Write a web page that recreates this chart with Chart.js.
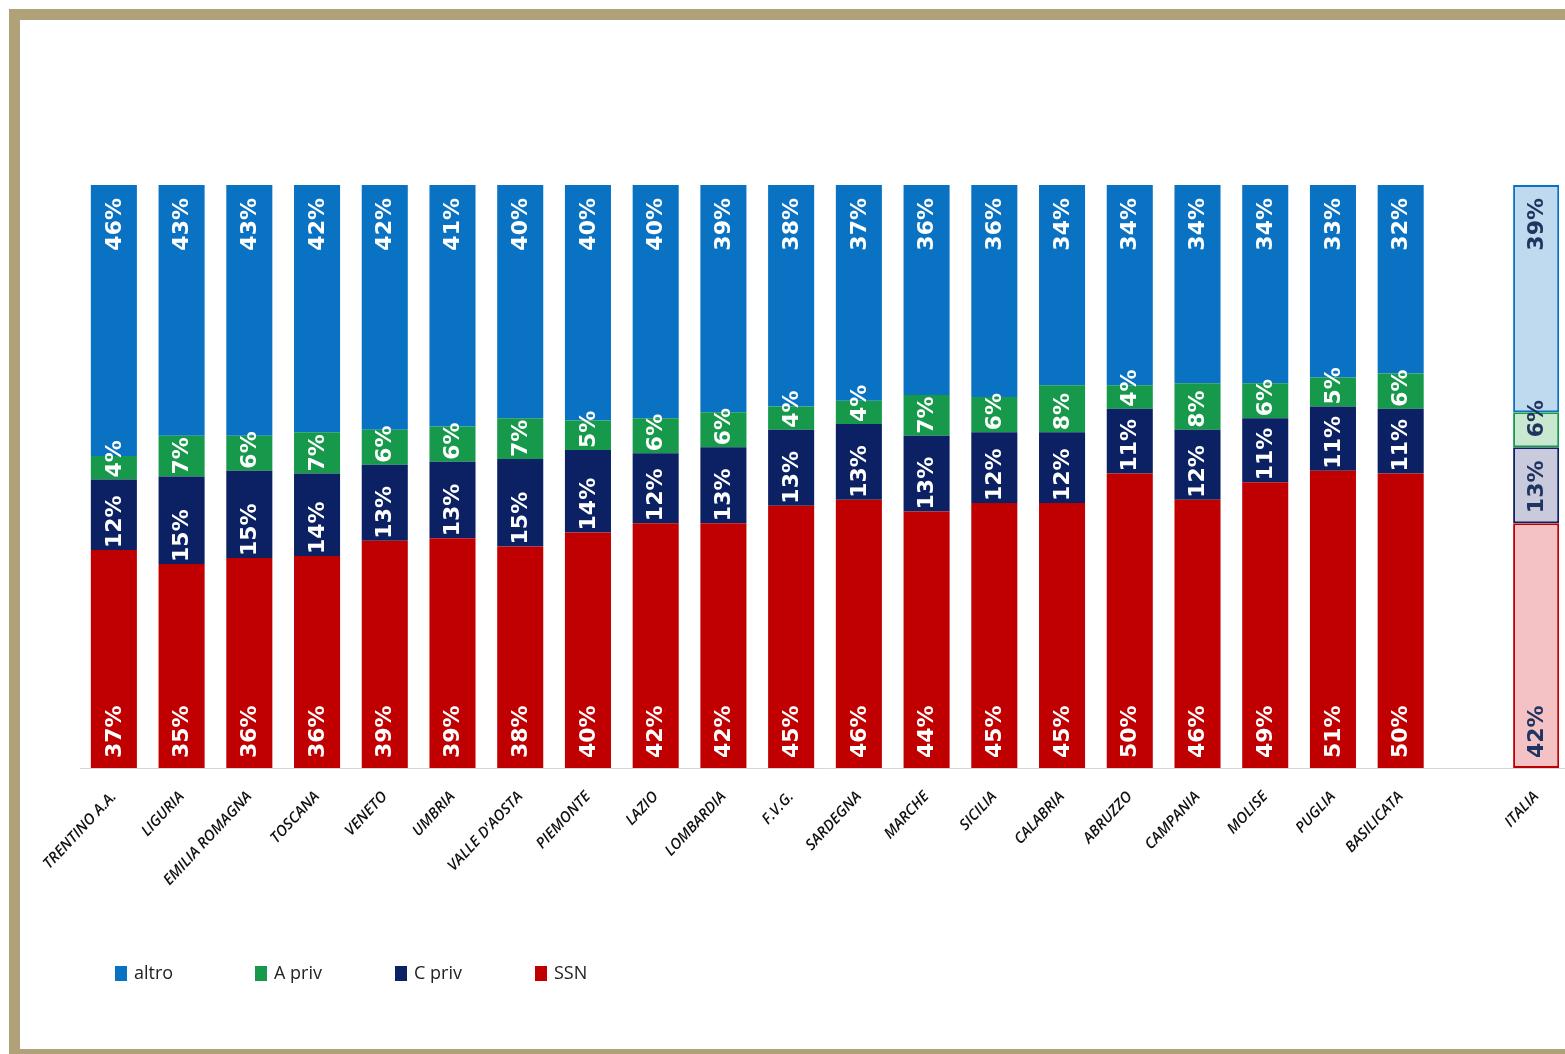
<!DOCTYPE html>
<html>
<head>
<meta charset="utf-8">
<script src="https://cdn.jsdelivr.net/npm/chart.js@4.4.1/dist/chart.umd.min.js"></script>
<style>
    html, body { margin: 0; padding: 0; background: #fff; overflow: hidden; }
    #wrap { position: relative; width: 1565px; height: 1054px; overflow: hidden; }
    #chart { position: absolute; left: 0; top: 0; }
    #frame {
        position: absolute; left: 9px; top: 9px; width: 1600px; height: 1029px;
        border: 11px solid #b1a17b; pointer-events: none;
    }
</style>
</head>
<body>
<div id="wrap">
    <canvas id="chart" width="1600" height="1054"></canvas>
    <div id="frame"></div>
</div>
<script>
// categories (an empty slot separates the regions from ITALIA)
const regions = ['TRENTINO A.A.', 'LIGURIA', 'EMILIA ROMAGNA', 'TOSCANA', 'VENETO', 'UMBRIA',
    "VALLE D'AOSTA", 'PIEMONTE', 'LAZIO', 'LOMBARDIA', 'F.V.G.', 'SARDEGNA', 'MARCHE', 'SICILIA',
    'CALABRIA', 'ABRUZZO', 'CAMPANIA', 'MOLISE', 'PUGLIA', 'BASILICATA', '', 'ITALIA'];

// shares in % as printed on the bars
const ssn   = [37, 35, 36, 36, 39, 39, 38, 40, 42, 42, 45, 46, 44, 45, 45, 50, 46, 49, 51, 50, null, 42];
const cPriv = [12, 15, 15, 14, 13, 13, 15, 14, 12, 13, 13, 13, 13, 12, 12, 11, 12, 11, 11, 11, null, 13];
const aPriv = [4, 7, 6, 7, 6, 6, 7, 5, 6, 6, 4, 4, 7, 6, 8, 4, 8, 6, 5, 6, null, 6];
const altro = [46, 43, 43, 42, 42, 41, 40, 40, 40, 39, 38, 37, 36, 36, 34, 34, 34, 34, 33, 32, null, 39];

const ITALIA = regions.indexOf('ITALIA');

// 100% stacked: scale each column so it fills the axis
function share(values) {
    return values.map((v, i) => {
        if (v === null) return null;
        const tot = ssn[i] + cPriv[i] + aPriv[i] + altro[i];
        return v / tot * 100;
    });
}

function colors(strong, light) {
    return regions.map((r, i) => i === ITALIA ? light : strong);
}

function makeSet(label, values, strong, light) {
    return {
        label: label,
        data: share(values),
        raw: values,
        backgroundColor: colors(strong, light),
        borderColor: strong,
        borderWidth: regions.map((r, i) => i === ITALIA ? 2 : 0),
        borderSkipped: false,
        swatch: strong
    };
}

const datasets = [
    makeSet('SSN', ssn, '#C00000', '#F4C2C4'),
    makeSet('C priv', cPriv, '#0B2163', '#C9CADB'),
    makeSet('A priv', aPriv, '#16994A', '#C8E8D0'),
    makeSet('altro', altro, '#0A72C3', '#BFD9EF')
];

// bar value labels, rotated to read bottom-up
const valueLabels = {
    id: 'valueLabels',
    afterDatasetsDraw(chart) {
        const ctx = chart.ctx;
        ctx.save();
        ctx.font = 'bold 22px "DejaVu Sans"';
        ctx.textBaseline = 'middle';
        chart.data.datasets.forEach((ds, di) => {
            const meta = chart.getDatasetMeta(di);
            meta.data.forEach((bar, i) => {
                const v = ds.raw[i];
                if (v === null) return;
                ctx.fillStyle = i === ITALIA ? '#1F3460' : '#ffffff';
                ctx.save();
                if (ds.label === 'altro') {
                    ctx.translate(bar.x, bar.y + 13);
                    ctx.rotate(-Math.PI / 2);
                    ctx.textAlign = 'right';
                } else {
                    const off = (ds.label === 'SSN' || i === ITALIA) ? 10 : 2;
                    ctx.translate(bar.x, bar.base - off);
                    ctx.rotate(-Math.PI / 2);
                    ctx.textAlign = 'left';
                }
                ctx.fillText(v + '%', 0, 1);
                ctx.restore();
            });
        });
        ctx.restore();
    }
};

// legend row at the bottom left
const bottomLegend = {
    id: 'bottomLegend',
    afterDraw(chart) {
        const ctx = chart.ctx;
        const order = ['altro', 'A priv', 'C priv', 'SSN'];
        ctx.save();
        ctx.font = '18px "Liberation Sans Narrow", "Open Sans", sans-serif';
        ctx.textBaseline = 'middle';
        ctx.textAlign = 'left';
        order.forEach((name, k) => {
            const ds = chart.data.datasets.find(d => d.label === name);
            const x = 115 + k * 140;
            ctx.fillStyle = ds.swatch;
            ctx.fillRect(x, 966, 12, 15);
            ctx.fillStyle = '#222';
            ctx.fillText(name, x + 19, 974);
        });
        ctx.restore();
    }
};

new Chart(document.getElementById('chart'), {
    type: 'bar',
    data: { labels: regions, datasets: datasets },
    options: {
        responsive: false,
        animation: false,
        layout: { padding: { left: 80, right: 30, top: 185, bottom: 0 } },
        datasets: { bar: { categoryPercentage: 1, barPercentage: 0.68 } },
        plugins: { legend: { display: false }, tooltip: { enabled: false } },
        scales: {
            x: {
                stacked: true,
                grid: { display: false },
                border: { display: true, color: '#d6d6d6', width: 1 },
                afterFit(scale) { scale.height = 286; },
                ticks: {
                    autoSkip: false,
                    minRotation: 47,
                    maxRotation: 47,
                    padding: 12,
                    color: '#111',
                    font: { family: '"Open Sans", sans-serif', size: 15, style: 'italic', weight: '600' }
                }
            },
            y: {
                stacked: true,
                display: false,
                min: 0,
                max: 100
            }
        }
    },
    plugins: [valueLabels, bottomLegend]
});
</script>
</body>
</html>
